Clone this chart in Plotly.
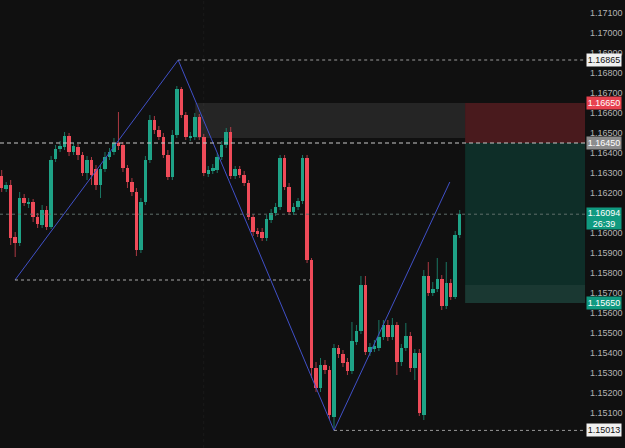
import plotly.graph_objects as go

# ---- data (prices) ----
opens = [1.16285,1.16220,1.16240,1.15980,1.15950,1.16175,1.16145,1.16155,1.16080,1.16040,
         1.16115,1.16030,1.16370,1.16420,1.16430,1.16485,1.16405,1.16430,1.16390,1.16300,
         1.16365,1.16320,1.16240,1.16320,1.16380,1.16405,1.16450,1.16440,1.16325,1.16255,
         1.16205,1.15915,1.16155,1.16365,1.16565,1.16515,1.16480,1.16390,1.16280,1.16490,
         1.16720,1.16590,1.16475,1.16480,1.16580,1.16480,1.16295,1.16310,1.16315,1.16380,
         1.16440,1.16505,1.16285,1.16320,1.16290,1.16250,1.16080,1.16010,1.16005,1.15975,
         1.16065,1.16100,1.16130,1.16375,1.16230,1.16105,1.16130,1.16160,1.16375,1.15865,
         1.15325,1.15225,1.15340,1.15315,1.15080,1.15425,1.15395,1.15355,1.15310,1.15455,
         1.15510,1.15740,1.15405,1.15420,1.15425,1.15480,1.15540,1.15480,1.15540,1.15355,
         1.15425,1.15485,1.15325,1.15400,1.15090,1.15785,1.15700,1.15720,1.15770,1.15635,
         1.15750,1.15680,1.15990]
closes = [1.16225,1.16240,1.15975,1.15950,1.16175,1.16150,1.16155,1.16080,1.16045,1.16115,
          1.16030,1.16365,1.16420,1.16435,1.16485,1.16405,1.16435,1.16390,1.16300,1.16365,
          1.16290,1.16240,1.16320,1.16380,1.16405,1.16450,1.16435,1.16325,1.16255,1.16205,
          1.15915,1.16155,1.16365,1.16565,1.16515,1.16480,1.16390,1.16280,1.16490,1.16720,
          1.16590,1.16480,1.16485,1.16580,1.16480,1.16300,1.16315,1.16325,1.16380,1.16440,
          1.16505,1.16285,1.16320,1.16290,1.16250,1.16080,1.16005,1.15995,1.15975,1.16070,
          1.16100,1.16130,1.16375,1.16230,1.16105,1.16130,1.16160,1.16375,1.15865,1.15325,
          1.15225,1.15340,1.15315,1.15090,1.15425,1.15395,1.15350,1.15310,1.15460,1.15510,
          1.15740,1.15405,1.15430,1.15435,1.15480,1.15540,1.15480,1.15540,1.15355,1.15425,
          1.15485,1.15325,1.15400,1.15100,1.15785,1.15700,1.15720,1.15770,1.15635,1.15750,
          1.15680,1.15990,1.16094]
highs = [1.16315,1.16255,1.16265,1.16005,1.16205,1.16195,1.16175,1.16170,1.16100,1.16140,
         1.16135,1.16385,1.16440,1.16460,1.16505,1.16500,1.16450,1.16445,1.16405,1.16385,
         1.16380,1.16340,1.16340,1.16405,1.16425,1.16475,1.16605,1.16455,1.16340,1.16275,
         1.16225,1.16175,1.16385,1.16590,1.16585,1.16535,1.16500,1.16415,1.16515,1.16735,
         1.16730,1.16605,1.16505,1.16600,1.16595,1.16495,1.16335,1.16345,1.16400,1.16460,
         1.16525,1.16530,1.16335,1.16335,1.16310,1.16265,1.16095,1.16025,1.16025,1.16090,
         1.16120,1.16150,1.16390,1.16390,1.16250,1.16150,1.16175,1.16390,1.16390,1.15875,
         1.15355,1.15375,1.15365,1.15335,1.15445,1.15440,1.15415,1.15375,1.15555,1.15540,
         1.15785,1.15785,1.15450,1.15465,1.15565,1.15565,1.15565,1.15575,1.15555,1.15445,
         1.15550,1.15505,1.15420,1.15420,1.15815,1.15855,1.15755,1.15875,1.15790,1.15855,
         1.15770,1.16010,1.16115]
lows = [1.16205,1.16205,1.15940,1.15880,1.15935,1.16135,1.16125,1.16055,1.16025,1.16025,
        1.16015,1.16020,1.16355,1.16405,1.16415,1.16385,1.16390,1.16365,1.16285,1.16265,
        1.16240,1.16215,1.16175,1.16305,1.16365,1.16390,1.16415,1.16305,1.16225,1.16185,
        1.15885,1.15900,1.16140,1.16350,1.16495,1.16465,1.16375,1.16265,1.16265,1.16475,
        1.16575,1.16465,1.16460,1.16465,1.16465,1.16285,1.16280,1.16295,1.16300,1.16365,
        1.16425,1.16270,1.16270,1.16275,1.16235,1.16065,1.15985,1.15980,1.15960,1.15960,
        1.16050,1.16085,1.16115,1.16215,1.16090,1.16090,1.16115,1.16145,1.15850,1.15275,
        1.15205,1.15205,1.15295,1.15065,1.15025,1.15375,1.15330,1.15290,1.15295,1.15440,
        1.15495,1.15390,1.15385,1.15405,1.15410,1.15465,1.15460,1.15465,1.15290,1.15335,
        1.15410,1.15305,1.15265,1.15085,1.15065,1.15685,1.15685,1.15705,1.15615,1.15620,
        1.15665,1.15670,1.15975]

# zigzag drawing (candle index, price)
zig_idx = [2.96, 39.3, 74.0, 99.8]
zig_price = [1.15765, 1.16865, 1.15013, 1.16255]

# position tool: entry / stop / target
entry_price = 1.16450
stop_price = 1.16650
target_price = 1.15650
last_price = 1.16094
swing_high = 1.16865
swing_low = 1.15013
start_level = 1.15765
zone_top, zone_bot = 1.16650, 1.16475
timer_text = "26:39"

# right-axis tick labels (1.16100 and 1.15000 sit under price badges)
tick_vals = [1.171, 1.170, 1.169, 1.168, 1.167, 1.166, 1.165, 1.164, 1.163, 1.162,
             1.160, 1.159, 1.158, 1.157, 1.156, 1.155, 1.154, 1.153, 1.152, 1.151]

UP = "#1fa387"
DN = "#ef4b59"
BG = "#101010"

n = len(opens)
idx = list(range(n))
X0, X1 = -0.38, 129.9
Y0, Y1 = 1.14925, 1.17165

fig = go.Figure()

# wicks
for color, up in ((UP, True), (DN, False)):
    wx, wy = [], []
    for i in idx:
        if (closes[i] >= opens[i]) == up:
            wx += [i, i, None]
            wy += [lows[i], highs[i], None]
    fig.add_trace(go.Scatter(x=wx, y=wy, mode="lines", line=dict(color=color, width=1),
                             opacity=0.7, hoverinfo="skip", showlegend=False))

# bodies
for color, up in ((UP, True), (DN, False)):
    bx, bbase, bh = [], [], []
    for i in idx:
        if (closes[i] >= opens[i]) == up:
            bx.append(i)
            bbase.append(min(opens[i], closes[i]))
            bh.append(abs(closes[i] - opens[i]))
    fig.add_trace(go.Bar(x=bx, y=bh, base=bbase, width=0.78, marker=dict(color=color, line=dict(width=0)),
                         hoverinfo="skip", showlegend=False))

# zigzag
fig.add_trace(go.Scatter(x=zig_idx, y=zig_price, mode="lines", line=dict(color="#4050c8", width=1),
                         hoverinfo="skip", showlegend=False))

pos_x0 = 103.2
shapes = [
    dict(type="rect", xref="x", yref="y", x0=43.1, x1=pos_x0, y0=zone_bot, y1=zone_top,
         fillcolor="rgba(255,255,255,0.09)", line=dict(width=0), layer="below"),
    dict(type="rect", xref="x", yref="y", x0=pos_x0, x1=X1, y0=entry_price, y1=stop_price,
         fillcolor="rgba(242,54,69,0.25)", line=dict(width=0), layer="below"),
    dict(type="rect", xref="x", yref="y", x0=pos_x0, x1=X1, y0=target_price, y1=entry_price,
         fillcolor="rgba(8,153,129,0.22)", line=dict(width=0), layer="below"),
    dict(type="rect", xref="x", yref="y", x0=pos_x0, x1=X1, y0=target_price, y1=1.15740,
         fillcolor="rgba(255,255,255,0.05)", line=dict(width=0), layer="below"),
    dict(type="line", xref="x", yref="paper", x0=45, x1=45, y0=0, y1=1,
         line=dict(color="rgba(255,255,255,0.045)", width=1, dash="dot"), layer="below"),
    dict(type="line", xref="x", yref="y", x0=39.3, x1=X1, y0=swing_high, y1=swing_high,
         line=dict(color="#9a9a9a", width=1, dash="dot")),
    dict(type="line", xref="x", yref="y", x0=X0, x1=X1, y0=entry_price, y1=entry_price,
         line=dict(color="#c8c8c8", width=1, dash="4px,3px")),
    dict(type="line", xref="x", yref="y", x0=2.96, x1=68.7, y0=start_level, y1=start_level,
         line=dict(color="#a8a8a8", width=1, dash="3px,3px")),
    dict(type="line", xref="x", yref="y", x0=X0, x1=X1, y0=last_price, y1=last_price,
         line=dict(color="#5f6f6a", width=1, dash="dot")),
    dict(type="line", xref="x", yref="y", x0=74.0, x1=X1, y0=swing_low, y1=swing_low,
         line=dict(color="#9a9a9a", width=1, dash="dot")),
]

FONT = "Liberation Sans, Arial, sans-serif"
def badge(price, text, bg, fg, yshift=0, yanchor="middle", h=12):
    return dict(xref="paper", yref="y", x=1.0, y=price, xanchor="left", yanchor=yanchor,
                yshift=yshift, xshift=1, text=text, showarrow=False, bgcolor=bg,
                font=dict(color=fg, size=9, family=FONT), width=34, height=h, borderpad=0,
                align="center")

annotations = [
    badge(swing_high, "1.16865", "#f0f0f0", "#111111"),
    badge(stop_price, "1.16650", "#e8424f", "#ffffff"),
    badge(entry_price, "1.16450", "#8c8c8c", "#ffffff"),
    badge(last_price, "1.16094<br>" + timer_text, "#109a80", "#ffffff", yshift=7, yanchor="top", h=21),
    badge(target_price, "1.15650", "#109a80", "#ffffff"),
    badge(swing_low, "1.15013", "#f0f0f0", "#111111"),
]

fig.update_layout(
    width=625, height=448,
    margin=dict(l=0, r=40, t=0, b=0),
    paper_bgcolor=BG, plot_bgcolor=BG,
    barmode="overlay", bargap=0,
    shapes=shapes, annotations=annotations,
    showlegend=False,
    xaxis=dict(range=[X0, X1], showgrid=False, zeroline=False, showticklabels=False,
               showline=False, ticks=""),
    yaxis=dict(range=[Y0, Y1], side="right", showgrid=False, zeroline=False,
               tickvals=tick_vals, tickformat=".5f", ticks="", showline=False,
               tickfont=dict(color="#b4b4b4", size=9, family=FONT), ticklabelstandoff=4),
)

fig.write_html("out.html")
